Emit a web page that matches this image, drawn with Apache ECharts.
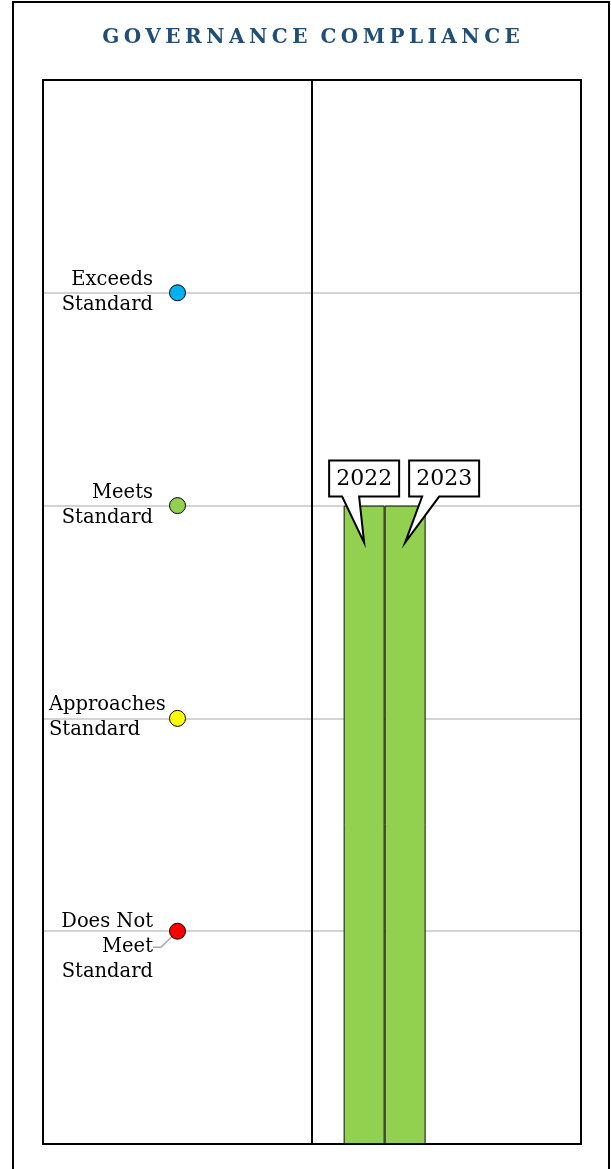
<!DOCTYPE html>
<html>
<head>
<meta charset="utf-8">
<script src="https://cdn.jsdelivr.net/npm/echarts@6/dist/echarts.min.js"></script>
<style>
  html, body { margin: 0; padding: 0; background: #fff; }
  #frame { position: absolute; left: 12px; top: 1px; width: 594px; height: 1200px; border: 2px solid #000; box-sizing: content-box; }
  #title { position: absolute; left: 12px; top: 22px; width: 598px; text-align: center;
           font-family: "DejaVu Serif", serif; font-weight: bold; font-size: 20px; color: #1F4E79;
           letter-spacing: 4.5px; text-indent: 4.5px; line-height: 28px; word-spacing: -3px; }
  #chart { position: absolute; left: 0; top: 0; width: 611px; height: 1169px; }
</style>
</head>
<body>
<div id="frame"></div>
<div id="chart"></div>
<div id="title">GOVERNANCE COMPLIANCE</div>
<script>
// ---- data ----
const levelNames = ['Does Not\nMeet\nStandard', 'Approaches\nStandard', 'Meets\nStandard', 'Exceeds\nStandard'];
const levelValues = [1, 2, 3, 4];
const levelColors = ['#FF0000', '#FFFF00', '#92D050', '#00B0F0'];
const years = ['2022', '2023'];
const yearScores = [3, 3];
const legendX = 0.5;      // x position of the level markers (axis units)
const barGroupX = 1.27;   // x position of the bar group (axis units)

const chart = echarts.init(document.getElementById('chart'), null, { renderer: 'canvas' });
const FONT = 'DejaVu Serif';
const BAR_W = 41;

const scatterData = levelValues.map((v, i) => {
  const item = {
    value: [legendX, v],
    name: levelNames[i],
    itemStyle: { color: levelColors[i] },
    label: { formatter: levelNames[i] }
  };
  if (i === 1) {
    item.label = { formatter: levelNames[i], position: [-120, 8], align: 'left', verticalAlign: 'middle' };
  }
  if (i === 0) {
    item.labelLine = { show: true, length2: 8, lineStyle: { color: '#aaaaaa', width: 1.5 } };
  }
  return item;
});

const barSeries = years.map((y, i) => ({
  name: y,
  type: 'bar',
  data: [[barGroupX, yearScores[i]]],
  barWidth: BAR_W,
  barGap: '0%',
  itemStyle: { color: '#92D050', borderColor: '#111', borderWidth: 1 },
  z: 3
}));

const calloutSeries = {
  type: 'custom',
  name: 'callouts',
  clip: false,
  z: 10,
  data: years.map((y, i) => [barGroupX, yearScores[i], i]),
  renderItem: function (params, api) {
    const n = years.length;
    const boxW = 70, boxH = 36, gapAbove = 9, tipDepth = 37;
    let prevRight = -Infinity, boxL = 0, barCx = 0, barTop = 0;
    for (let k = 0; k <= params.dataIndex; k++) {
      const pt = api.coord([barGroupX, yearScores[k]]);
      const cx = pt[0] + (k - (n - 1) / 2) * BAR_W;
      const l = Math.max(cx - boxW / 2, prevRight + 10);
      prevRight = l + boxW;
      if (k === params.dataIndex) { boxL = l; barCx = cx; barTop = pt[1]; }
    }
    const top = barTop - gapAbove - boxH;
    const bottom = barTop - gapAbove;
    const pts = [
      [boxL, top], [boxL + boxW, top], [boxL + boxW, bottom],
      [boxL + 30, bottom], [barCx, barTop + tipDepth], [boxL + 13, bottom],
      [boxL, bottom]
    ];
    return {
      type: 'group',
      children: [
        { type: 'polygon', shape: { points: pts }, style: { fill: '#fff', stroke: '#000', lineWidth: 2, lineJoin: 'miter' } },
        { type: 'text', style: { text: years[params.dataIndex], x: boxL + boxW / 2, y: top + boxH / 2 + 1,
            align: 'center', verticalAlign: 'middle', font: '22px "' + FONT + '"', fill: '#000' } }
      ]
    };
  }
};

const option = {
  animation: false,
  grid: { left: 43, right: 30, top: 80, bottom: 25 },
  xAxis: [
    { type: 'value', min: 0, max: 2, interval: 1, position: 'bottom',
      axisLine: { show: true, onZero: false, lineStyle: { color: '#000', width: 2 } },
      axisTick: { show: false }, axisLabel: { show: false },
      splitLine: { show: true, lineStyle: { color: '#000', width: 2 } } },
    { type: 'value', min: 0, max: 2, interval: 1, position: 'top',
      axisLine: { show: true, onZero: false, lineStyle: { color: '#000', width: 2 } },
      axisTick: { show: false }, axisLabel: { show: false }, splitLine: { show: false } }
  ],
  yAxis: [
    { type: 'value', min: 0, max: 5, interval: 1, position: 'left',
      axisLine: { show: true, onZero: false, lineStyle: { color: '#000', width: 2 } },
      axisTick: { show: false }, axisLabel: { show: false },
      splitLine: { show: true, lineStyle: { color: ['#000', '#c4c4c4', '#c4c4c4', '#c4c4c4', '#c4c4c4', '#000'], width: 1.5 } } },
    { type: 'value', min: 0, max: 5, interval: 1, position: 'right',
      axisLine: { show: true, onZero: false, lineStyle: { color: '#000', width: 2 } },
      axisTick: { show: false }, axisLabel: { show: false }, splitLine: { show: false } }
  ],
  series: [
    ...barSeries,
    {
      type: 'scatter',
      name: 'levels',
      data: scatterData,
      symbolSize: 16,
      itemStyle: { borderColor: '#000', borderWidth: 1, opacity: 1 },
      label: { show: true, position: 'left', distance: 16, align: 'right', color: '#000',
               fontFamily: FONT, fontSize: 19.5, lineHeight: 25 },
      labelLayout: function (params) {
        if (params.dataIndex === 0) return { dy: 16 };
        return {};
      },
      z: 5
    },
    calloutSeries
  ]
};
chart.setOption(option);
</script>
</body>
</html>
